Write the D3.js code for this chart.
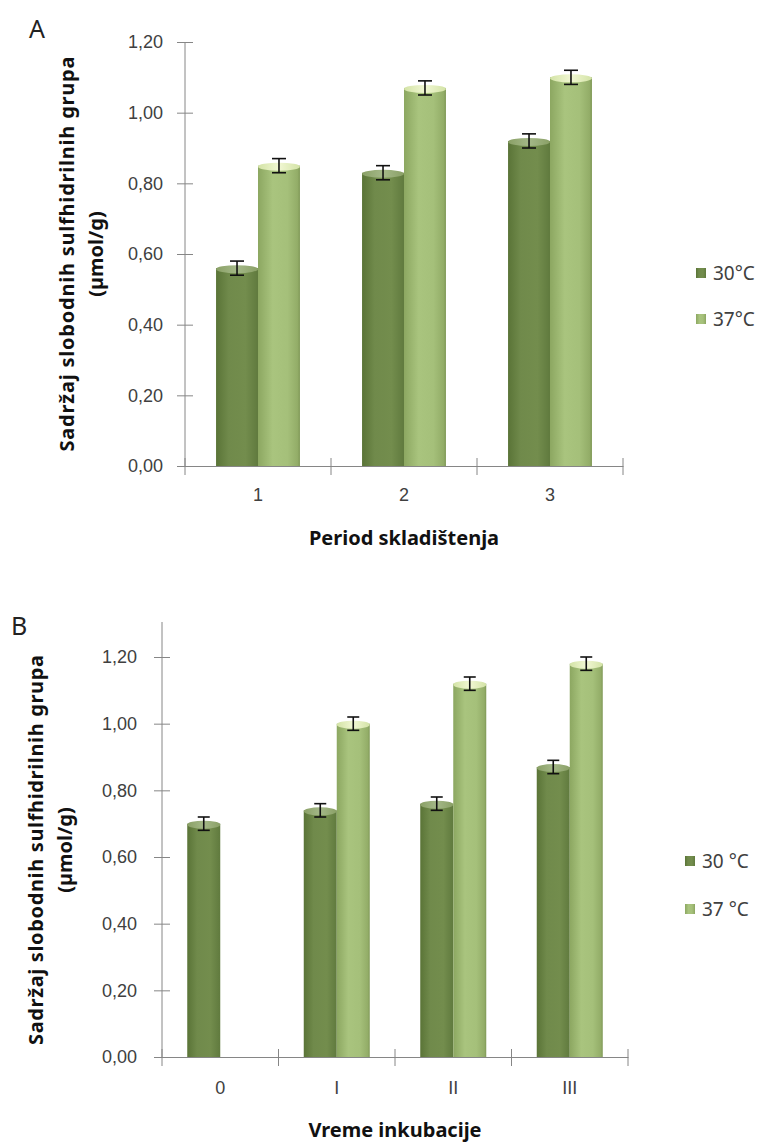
<!DOCTYPE html>
<html>
<head>
<meta charset="utf-8">
<script src="https://cdn.jsdelivr.net/npm/d3@7"></script>
<style>
  body { margin: 0; background: #fff; }
  svg { display: block; font-family: "Noto Sans", "Open Sans", sans-serif; }
</style>
</head>
<body>
<div id="chart"></div>
<script>
// Values
const seriesNames = ["30 °C", "37 °C"];
const yTicks = [0, 0.2, 0.4, 0.6, 0.8, 1.0, 1.2];

const categoriesA = ["1", "2", "3"];
const valuesA30 = [0.56, 0.83, 0.92];
const valuesA37 = [0.85, 1.07, 1.10];
const errorsA30 = [0.02, 0.02, 0.02];
const errorsA37 = [0.02, 0.02, 0.02];

const categoriesB = ["0", "I", "II", "III"];
const valuesB30 = [0.70, 0.74, 0.76, 0.87];
const valuesB37 = [null, 1.00, 1.12, 1.18];
const errorsB30 = [0.02, 0.02, 0.02, 0.02];
const errorsB37 = [null, 0.02, 0.02, 0.02];

const W = 769, H = 1142;
const svg = d3.select("#chart").append("svg")
    .attr("width", W)
    .attr("height", H);

const defs = svg.append("defs");

function hGrad(id, stops) {
    const g = defs.append("linearGradient").attr("id", id)
        .attr("x1", "0%").attr("x2", "100%").attr("y1", "0%").attr("y2", "0%");
    stops.forEach(s => g.append("stop").attr("offset", s[0]).attr("stop-color", s[1]));
}
hGrad("dark", [["0%", "#5a7437"], ["30%", "#708a4b"], ["70%", "#738d4d"], ["100%", "#607a3e"]]);
hGrad("light", [["0%", "#8ca761"], ["35%", "#a9c47e"], ["70%", "#a5c07a"], ["94%", "#93ad68"], ["100%", "#7f9856"]]);
hGrad("darkTop", [["0%", "#8aa066"], ["50%", "#a4b888"], ["100%", "#8aa066"]]);
hGrad("lightTop", [["0%", "#d3e3a6"], ["50%", "#f1f7d3"], ["100%", "#d3e3a6"]]);

const fills = ["url(#dark)", "url(#light)"];
const topFills = ["url(#darkTop)", "url(#lightTop)"];
const fmt = v => d3.format(".2f")(v).replace(".", ",");
const axisColor = "#868686";
const textColor = "#404040";

function drawPanel(p) {
    const g = svg.append("g");

    const x = d3.scaleBand().domain(p.categories).range([p.left, p.right]);
    const x1 = d3.scaleBand().domain([0, 1]).range([0, x.bandwidth()]).paddingOuter(p.outer);
    const y = d3.scaleLinear().domain([0, 1.2]).range([p.bottom, p.top]);

    // y axis
    const ya = g.append("g")
        .attr("transform", `translate(${p.left},0)`)
        .call(d3.axisLeft(y).tickValues(yTicks).tickFormat(fmt).tickSize(8).tickPadding(p.tickPad));
    ya.select(".domain").remove();
    ya.selectAll(".tick line").attr("x1", -8).attr("x2", 8).attr("stroke", axisColor);
    ya.selectAll(".tick text").attr("fill", textColor).attr("font-size", "18px");
    g.append("line")
        .attr("x1", p.left).attr("x2", p.left)
        .attr("y1", p.axisTop).attr("y2", p.bottom)
        .attr("stroke", axisColor);

    // x axis
    const xa = g.append("g")
        .attr("transform", `translate(0,${p.bottom})`)
        .call(d3.axisBottom(x).tickSize(0).tickPadding(p.xPad));
    xa.select(".domain").attr("stroke", axisColor);
    xa.selectAll(".tick text").attr("fill", textColor).attr("font-size", "18px");
    const bounds = p.categories.map(c => x(c)).concat([x.range()[1]]);
    g.selectAll(".xb").data(bounds).enter().append("line")
        .attr("x1", d => d).attr("x2", d => d)
        .attr("y1", p.bottom - 8).attr("y2", p.bottom + 9)
        .attr("stroke", axisColor);

    // bars
    p.series.forEach((vals, si) => {
        vals.forEach((v, i) => {
            if (v == null) return;
            const bx = x(p.categories[i]) + x1(si);
            const bw = x1.bandwidth();
            g.append("rect")
                .attr("x", bx).attr("y", y(v))
                .attr("width", bw).attr("height", y(0) - y(v))
                .attr("fill", fills[si]);
            g.append("ellipse")
                .attr("cx", bx + bw / 2).attr("cy", y(v) + 1)
                .attr("rx", bw / 2).attr("ry", 4)
                .attr("fill", topFills[si]);
            const e = p.errors[si][i];
            const cx = bx + bw / 2;
            g.append("line")
                .attr("x1", cx).attr("x2", cx)
                .attr("y1", y(v - e)).attr("y2", y(v + e))
                .attr("stroke", "#111").attr("stroke-width", 1.6);
            [v - e, v + e].forEach(t => {
                g.append("line")
                    .attr("x1", cx - p.cap).attr("x2", cx + p.cap)
                    .attr("y1", y(t)).attr("y2", y(t))
                    .attr("stroke", "#111").attr("stroke-width", 1.6);
            });
        });
    });

    // axis titles
    g.append("text")
        .attr("x", (p.left + p.right) / 2)
        .attr("y", p.xTitleY)
        .attr("text-anchor", "middle")
        .attr("font-weight", "bold")
        .attr("font-size", "20px")
        .attr("fill", "#111")
        .text(p.xTitle);

    const yt = g.append("text")
        .attr("transform", `translate(${p.yTitleX},${p.yTitleY}) rotate(-90)`)
        .attr("text-anchor", "middle")
        .attr("font-weight", "bold")
        .attr("font-size", "20px")
        .attr("fill", "#111");
    yt.append("tspan").attr("x", 0).attr("dy", 0)
        .attr("textLength", p.yTitleLen).attr("lengthAdjust", "spacing")
        .text("Sadržaj slobodnih sulfhidrilnih grupa");
    yt.append("tspan").attr("x", 0).attr("dy", 29).text("(µmol/g)");

    // panel letter
    g.append("text")
        .attr("x", p.letterX).attr("y", p.letterY)
        .attr("font-size", "25px")
        .attr("fill", "#222")
        .text(p.letter);

    // legend
    p.legendY.forEach((ly, si) => {
        g.append("rect")
            .attr("x", p.legendX).attr("y", ly - 5)
            .attr("width", 10).attr("height", 10)
            .attr("fill", fills[si]);
        g.append("text")
            .attr("x", p.legendX + 17).attr("y", ly)
            .attr("dy", "0.35em")
            .attr("font-size", "19px")
            .attr("fill", textColor)
            .text(p.legendNames[si]);
    });
}

drawPanel({
    letter: "A", letterX: 29, letterY: 38,
    categories: categoriesA,
    series: [valuesA30, valuesA37],
    errors: [errorsA30, errorsA37],
    left: 185, right: 623, top: 42, axisTop: 42, bottom: 466,
    outer: 0.74, cap: 7, tickPad: 14, xPad: 22,
    xTitle: "Period skladištenja", xTitleY: 545,
    yTitleX: 74, yTitleY: 254, yTitleLen: 395,
    legendX: 696, legendY: [273, 319],
    legendNames: ["30°C", "37°C"]
});

drawPanel({
    letter: "B", letterX: 11, letterY: 635,
    categories: categoriesB,
    series: [valuesB30, valuesB37],
    errors: [errorsB30, errorsB37],
    left: 162, right: 628, top: 657, axisTop: 622, bottom: 1057,
    outer: 0.765, cap: 6, tickPad: 17, xPad: 24,
    xTitle: "Vreme inkubacije", xTitleY: 1137,
    yTitleX: 43, yTitleY: 850, yTitleLen: 390,
    legendX: 685, legendY: [861, 909],
    legendNames: ["30 °C", "37 °C"]
});
</script>
</body>
</html>
